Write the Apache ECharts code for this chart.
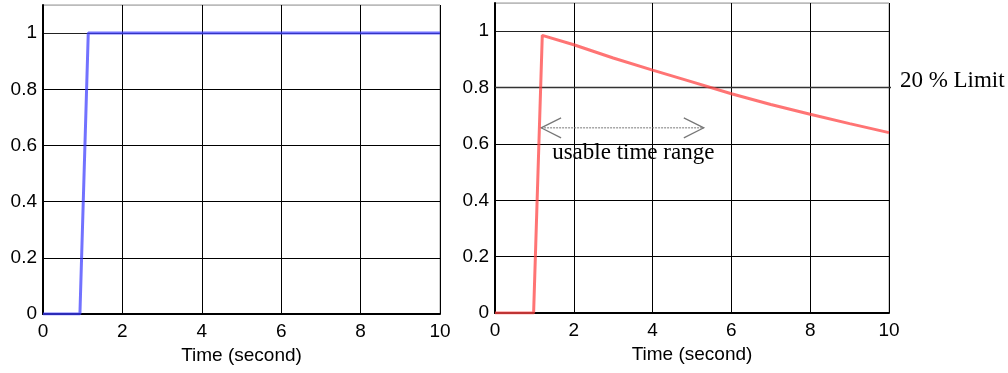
<!DOCTYPE html>
<html>
<head>
<meta charset="utf-8">
<script src="https://cdn.jsdelivr.net/npm/echarts@6/dist/echarts.min.js"></script>
<style>
  html, body { margin: 0; padding: 0; background: #fff; }
  #main { width: 1008px; height: 373px; }
</style>
</head>
<body>
<div id="main"></div>
<script>
// step input (left) and response with decay (right)
var xTicks = [0, 2, 4, 6, 8, 10];
var yTicks = [0, 0.2, 0.4, 0.6, 0.8, 1];
var stepData = [[0, 0], [0.93, 0], [1.14, 1], [10, 1]];
var respData = [[0, 0], [0.98, 0], [1.2, 0.985], [2, 0.952], [3, 0.905], [4, 0.862],
                [5, 0.82], [6, 0.778], [7, 0.74], [8, 0.705], [9, 0.672], [10, 0.64]];
var limitValue = 0.8;
var limitText = '20 % Limit';
var rangeFrom = 1.17, rangeTo = 5.3, rangeY = 0.657;
var rangeText = 'usable time range';

var sans = 'Liberation Sans, Arial, sans-serif';
var serif = 'Liberation Serif, Times New Roman, serif';

function xAx(i) {
  return {
    type: 'value', gridIndex: i, min: 0, max: 10, interval: 2,
    name: 'Time (second)', nameLocation: 'middle', nameGap: 28,
    nameTextStyle: { fontFamily: sans, fontSize: 19, color: '#000' },
    axisLine: { lineStyle: { color: '#000', width: 2 } },
    axisTick: { show: false },
    axisLabel: { fontFamily: sans, fontSize: 19, color: '#000', margin: 8 },
    splitLine: { show: true, lineStyle: { color: '#000', width: 1 } }
  };
}
function yAx(i) {
  return {
    type: 'value', gridIndex: i, min: 0, max: 1.1, interval: 0.2,
    axisLine: { show: true, lineStyle: { color: '#000', width: 2 } },
    axisTick: { show: false },
    axisLabel: {
      fontFamily: sans, fontSize: 19, color: '#000', margin: 6,
      formatter: function (v) { return v > 1.05 ? '' : String(+v.toFixed(1)); }
    },
    splitLine: { show: true, lineStyle: { color: ['#000', '#000', '#000', '#000', '#000', '#222', '#bbb'], width: 1 } }
  };
}

var chart = echarts.init(document.getElementById('main'), null, { renderer: 'canvas' });
chart.setOption({
  animation: false,
  backgroundColor: '#fff',
  grid: [
    { left: 43, right: 568, top: 5, bottom: 59, show: true, borderColor: '#999', borderWidth: 1 },
    { left: 495, right: 119, top: 3, bottom: 60, show: true, borderColor: '#999', borderWidth: 1 }
  ],
  xAxis: [xAx(0), xAx(1)],
  yAxis: [yAx(0), yAx(1)],
  series: [
    {
      type: 'line', xAxisIndex: 0, yAxisIndex: 0, data: stepData, symbol: 'none',
      lineStyle: { color: 'rgba(60,60,255,0.72)', width: 3 }
    },
    {
      type: 'line', xAxisIndex: 1, yAxisIndex: 1, data: [[0, limitValue], [10.2, limitValue]],
      symbol: 'none', clip: false, silent: true,
      lineStyle: { color: '#333', width: 1.5 }
    },
    {
      type: 'line', xAxisIndex: 1, yAxisIndex: 1, data: [[rangeFrom, rangeY], [rangeTo, rangeY]],
      symbol: 'none', silent: true,
      lineStyle: { color: '#777', width: 1, type: [2, 1] }
    },
    {
      type: 'line', xAxisIndex: 1, yAxisIndex: 1, data: respData, symbol: 'none',
      lineStyle: { color: 'rgba(255,70,70,0.75)', width: 3 }
    }
  ]
});

// annotations placed through the axis scales
function px(x, y) { return chart.convertToPixel({ xAxisIndex: 1, yAxisIndex: 1 }, [x, y]); }
var a = px(rangeFrom, rangeY), b = px(rangeTo, rangeY);
var lim = px(10.2, limitValue);
var txt = px(1.45, 0.551);
chart.setOption({
  graphic: [
    { type: 'polyline', shape: { points: [[a[0] + 20, a[1] - 10], [a[0], a[1]], [a[0] + 20, a[1] + 10]] },
      style: { stroke: '#777', lineWidth: 1.2, fill: null } },
    { type: 'polyline', shape: { points: [[b[0] - 20, b[1] - 10], [b[0], b[1]], [b[0] - 20, b[1] + 10]] },
      style: { stroke: '#777', lineWidth: 1.2, fill: null } },
    { type: 'text', x: lim[0] + 3, y: lim[1] - 7,
      style: { text: limitText, font: '23px ' + serif, fill: '#000', textVerticalAlign: 'middle' } },
    { type: 'text', x: txt[0], y: txt[1] - 5,
      style: { text: rangeText, font: '23px ' + serif, fill: '#000', textVerticalAlign: 'middle' } }
  ]
});
</script>
</body>
</html>
